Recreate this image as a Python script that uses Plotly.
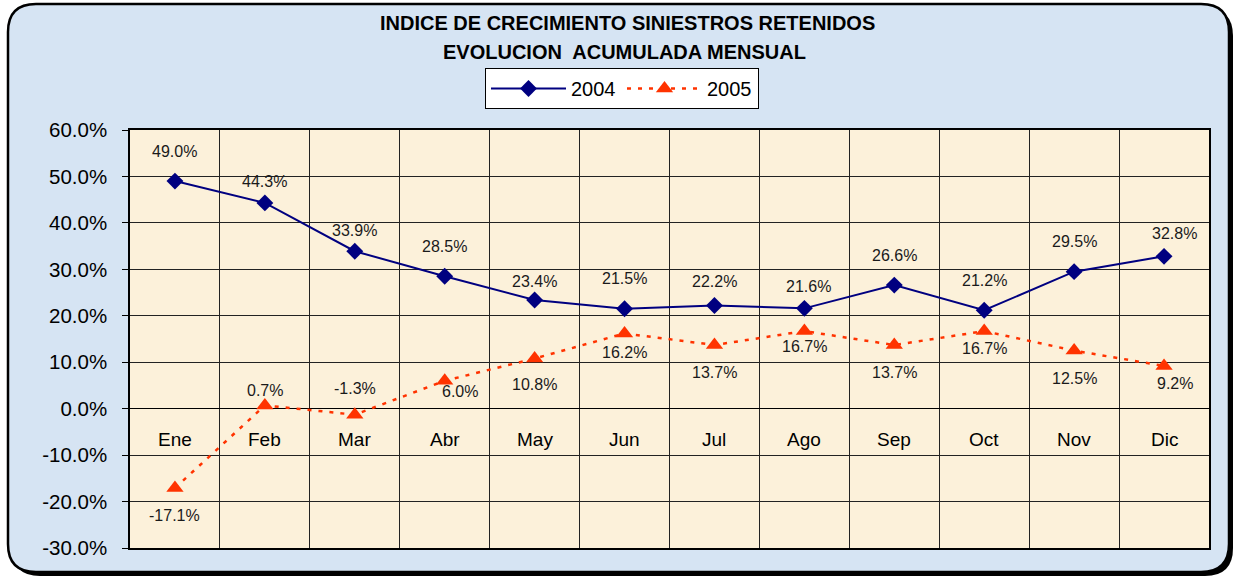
import plotly.graph_objects as go

# ---------------- data ----------------
months = ["Ene", "Feb", "Mar", "Abr", "May", "Jun", "Jul", "Ago", "Sep", "Oct", "Nov", "Dic"]
serie_2004 = [49.0, 44.3, 33.9, 28.5, 23.4, 21.5, 22.2, 21.6, 26.6, 21.2, 29.5, 32.8]
serie_2005 = [-17.1, 0.7, -1.3, 6.0, 10.8, 16.2, 13.7, 16.7, 13.7, 16.7, 12.5, 9.2]
name_2004 = "2004"
name_2005 = "2005"
title_lines = ["INDICE DE CRECIMIENTO SINIESTROS RETENIDOS", "EVOLUCION  ACUMULADA MENSUAL"]
y_ticks = [-30, -20, -10, 0, 10, 20, 30, 40, 50, 60]

# ---------------- label placement (pixels) ----------------
dy_2004 = [30, 21, 21, 30, 18, 30, 24, 22, 30, 30, 30, 23]
dx_2004 = [0, 0, 0, 0, 0, 0, 0, 4, 0, 0, 0, 10]
dy_2005 = [-27, 15, 26, -11, -26, -19, -27, -15, -27, -17, -28, -18]
dx_2005 = [0, 0, 0, 15, 0, 0, 0, 0, 0, 0, 0, 11]

W, H = 1238, 578
L, R, T, B = 130, 29, 130, 30
PW, PH = W - L - R, H - T - B
FONT = "Arial, Liberation Sans, sans-serif"

def px(x):
    return (x - L) / PW

def py(y):
    return (H - B - y) / PH

def rrect(x0, y0, x1, y1, r):
    p = [
        f"M {px(x0 + r)},{py(y0)}",
        f"L {px(x1 - r)},{py(y0)}",
        f"Q {px(x1)},{py(y0)} {px(x1)},{py(y0 + r)}",
        f"L {px(x1)},{py(y1 - r)}",
        f"Q {px(x1)},{py(y1)} {px(x1 - r)},{py(y1)}",
        f"L {px(x0 + r)},{py(y1)}",
        f"Q {px(x0)},{py(y1)} {px(x0)},{py(y1 - r)}",
        f"L {px(x0)},{py(y0 + r)}",
        f"Q {px(x0)},{py(y0)} {px(x0 + r)},{py(y0)}",
        "Z",
    ]
    return " ".join(p)

fig = go.Figure()

fig.add_trace(go.Scatter(
    x=months, y=serie_2004, name=name_2004, mode="lines+markers",
    line=dict(color="#000080", width=2),
    marker=dict(symbol="diamond", size=13, color="#000080"),
))
fig.add_trace(go.Scatter(
    x=months, y=serie_2005, name=name_2005, mode="lines+markers",
    line=dict(color="#FF3300", width=2.5, dash="4px,7px"),
    marker=dict(symbol="triangle-up", size=15, color="#FF3300"),
))

annotations = []
for m, v, dx, dy in zip(months, serie_2004, dx_2004, dy_2004):
    annotations.append(dict(x=m, y=v, text=f"{v:.1f}%", showarrow=False,
                            xshift=dx, yshift=dy, font=dict(size=16, color="#1a1a1a", family=FONT)))
for m, v, dx, dy in zip(months, serie_2005, dx_2005, dy_2005):
    annotations.append(dict(x=m, y=v, text=f"{v:.1f}%", showarrow=False,
                            xshift=dx, yshift=dy, font=dict(size=16, color="#1a1a1a", family=FONT)))
for m in months:
    annotations.append(dict(x=m, y=-6.6, text=m, showarrow=False, yanchor="middle",
                            font=dict(size=19, color="#000", family=FONT)))
annotations.append(dict(xref="paper", yref="paper", x=px(627), y=py(22.5), text=f"<b>{title_lines[0]}</b>",
                        showarrow=False, xanchor="center", yanchor="middle",
                        font=dict(size=20, color="#000", family=FONT)))
annotations.append(dict(xref="paper", yref="paper", x=px(624), y=py(52), text=f"<b>{title_lines[1]}</b>",
                        showarrow=False, xanchor="center", yanchor="middle",
                        font=dict(size=20, color="#000", family=FONT)))

shapes = [
    dict(type="path", xref="paper", yref="paper", path=rrect(12, 8, 1233, 576, 28),
         fillcolor="#000", line=dict(width=0), layer="below"),
    dict(type="path", xref="paper", yref="paper", path=rrect(8, 4, 1229, 572, 28),
         fillcolor="#D6E4F3", line=dict(color="#000", width=2.5), layer="below"),
    dict(type="rect", xref="paper", yref="paper", x0=0, x1=1, y0=0, y1=1,
         fillcolor="#FCF1DA", line=dict(width=0), layer="below"),
]

fig.update_layout(
    width=W, height=H,
    margin=dict(l=L, r=R, t=T, b=B),
    paper_bgcolor="#FFFFFF",
    plot_bgcolor="#FCF1DA",
    font=dict(family=FONT, color="#000"),
    showlegend=True,
    legend=dict(
        orientation="h", x=px(622), xanchor="center", y=py(68), yanchor="top",
        bgcolor="#FFFFFF", bordercolor="#000", borderwidth=1,
        font=dict(size=20, family=FONT, color="#000"),
        itemwidth=75, entrywidth=46,
    ),
    xaxis=dict(
        type="category", categoryorder="array", categoryarray=months,
        range=[-0.5, len(months) - 0.5],
        tickson="boundaries", showticklabels=False, ticks="",
        showgrid=True, gridcolor="#222", gridwidth=1,
        showline=True, linecolor="#000", linewidth=1.5, mirror=True,
        zeroline=False,
    ),
    yaxis=dict(
        range=[-30, 60], tickvals=y_ticks, ticktext=[f"{v:.1f}%" for v in y_ticks],
        ticks="outside", ticklen=6, tickcolor="#000", ticklabelstandoff=11,
        tickfont=dict(size=20.5, family=FONT, color="#000"),
        showgrid=True, gridcolor="#222", gridwidth=1,
        showline=True, linecolor="#000", linewidth=1.5, mirror=True,
        zeroline=True, zerolinecolor="#000", zerolinewidth=1,
    ),
    annotations=annotations,
    shapes=shapes,
)

fig.write_html("out.html", config={"displayModeBar": False},
               post_script="document.body.style.margin='0';")
